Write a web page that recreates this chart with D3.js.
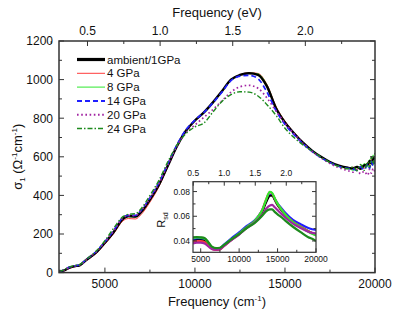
<!DOCTYPE html>
<html>
<head>
<meta charset="utf-8">
<script src="https://cdn.jsdelivr.net/npm/d3@7"></script>
<style>
  body { margin: 0; background: #fff; }
  svg text { font-family: "Liberation Sans", Arial, sans-serif; }
</style>
</head>
<body>
<div id="chart"></div>
<script>
// main panel: sigma_1 vs frequency (cm-1)
var freq = [2450, 2700, 3000, 3300, 3600, 4000, 4500, 5000, 5500, 6000, 6300, 6700, 7000, 7500, 8000, 8500, 9000, 9500,
  10000, 10500, 11000, 11500, 12000, 12500, 13000, 13500, 14000, 14500, 15000, 15500, 16000, 16500, 17000, 17500, 18000,
  18500, 18800, 19000, 19200, 19400, 19600, 19700, 19800, 19900, 20000];

var sAmb = [5, 10, 25, 33, 38, 68, 103, 155, 212, 278, 293, 291, 313, 378, 455, 555, 655, 735,
  788, 830, 882, 940, 1000, 1024, 1033, 1025, 965, 852, 778, 722, 673, 632, 600, 573, 554,
  543, 540, 548, 538, 556, 560, 578, 566, 590, 595];
var s4 = [3, 8, 20, 30, 36, 64, 98, 148, 203, 268, 280, 278, 300, 365, 445, 550, 650, 732,
  785, 828, 880, 937, 998, 1025, 1036, 1032, 975, 862, 785, 726, 676, 633, 600, 574, 552,
  540, 546, 534, 552, 540, 572, 556, 590, 570, 600];
var s8 = [4, 9, 23, 32, 37, 66, 101, 152, 208, 274, 289, 288, 310, 375, 452, 553, 654, 736,
  787, 830, 882, 938, 998, 1024, 1034, 1030, 972, 858, 782, 724, 674, 632, 600, 573, 553,
  542, 530, 552, 536, 566, 548, 585, 560, 610, 580];
var s14 = [6, 12, 27, 35, 40, 71, 108, 160, 220, 285, 297, 297, 322, 388, 466, 565, 662, 740,
  790, 830, 880, 935, 995, 1018, 1022, 1005, 935, 840, 768, 715, 668, 628, 596, 570, 550,
  540, 536, 530, 548, 532, 562, 540, 575, 552, 585];
var s20 = [5, 11, 26, 34, 39, 70, 106, 158, 218, 283, 295, 296, 320, 385, 462, 560, 655, 725,
  765, 805, 845, 890, 935, 963, 970, 955, 905, 838, 775, 720, 670, 628, 595, 565, 543,
  528, 520, 530, 512, 525, 505, 535, 515, 540, 520];
var s24 = [6, 13, 28, 36, 42, 72, 110, 165, 232, 290, 302, 305, 330, 400, 478, 575, 660, 720,
  755, 775, 832, 887, 922, 937, 935, 915, 870, 815, 748, 700, 662, 630, 598, 570, 550,
  538, 548, 528, 560, 530, 575, 545, 600, 560, 620];

// inset: R_sd vs frequency
var freqIn = [4000, 4500, 5000, 5500, 6000, 6500, 7000, 7500, 8000, 9000, 10000, 11000, 12000, 12500, 13000, 13500,
  14000, 14300, 14600, 15000, 15500, 16000, 17000, 18000, 19000, 19500, 20000];
var rAmb = [.0400, .0405, .0405, .0400, .0370, .0340, .0332, .0335, .0360, .0410, .0457, .0510, .0555, .0590, .0635, .0710,
  .0765, .0768, .0735, .0690, .0648, .0610, .0550, .0515, .0480, .0465, .0455];
var r4 = [.0392, .0398, .0398, .0392, .0362, .0335, .0328, .0332, .0357, .0408, .0455, .0510, .0558, .0598, .0650, .0735,
  .0795, .0785, .0748, .0700, .0655, .0615, .0555, .0515, .0478, .0462, .0450];
var r8 = [.0425, .0428, .0426, .0420, .0385, .0350, .0340, .0342, .0365, .0414, .0460, .0513, .0560, .0598, .0648, .0732,
  .0797, .0788, .0750, .0702, .0656, .0614, .0552, .0512, .0474, .0458, .0445];
var r14 = [.0410, .0415, .0414, .0408, .0378, .0345, .0336, .0340, .0368, .0422, .0470, .0522, .0565, .0600, .0648, .0722,
  .0772, .0775, .0745, .0705, .0665, .0628, .0570, .0535, .0505, .0495, .0490];
var r20 = [.0380, .0386, .0386, .0380, .0356, .0334, .0330, .0334, .0358, .0406, .0452, .0505, .0548, .0578, .0612, .0660,
  .0688, .0692, .0675, .0650, .0619, .0590, .0540, .0505, .0475, .0465, .0460];
var r24 = [.0430, .0432, .0430, .0424, .0390, .0352, .0342, .0345, .0366, .0412, .0455, .0505, .0545, .0572, .0604, .0640,
  .0655, .0655, .0638, .0615, .0592, .0565, .0515, .0471, .0430, .0417, .0400];

var names = ['ambient/1GPa', '4 GPa', '8 GPa', '14 GPa', '20 GPa', '24 GPa'];
var mainVals = [sAmb, s4, s8, s14, s20, s24];
var insetVals = [rAmb, r4, r8, r14, r20, r24];

var eVTicks = [0.5, 1.0, 1.5, 2.0];
var eVMinor = [0.25, 0.75, 1.25, 1.75, 2.25];
var CM_PER_EV = 8065.5;

var styles = [
  { color: '#000', width: 2.4, dash: null, lw: 3.2 },
  { color: '#ff3b3b', width: 1, dash: null, lw: 1 },
  { color: '#2ee82e', width: 1, dash: null, lw: 1 },
  { color: '#1f1fff', width: 1.7, dash: '5,3', lw: 2 },
  { color: '#a225a2', width: 1.7, dash: '1.6,2.6', lw: 2 },
  { color: '#1d8a1d', width: 1.4, dash: '5,2,1.5,2', lw: 1.6 }
];

var W = 399, H = 315;
var m = { l: 59, r: 375, t: 41, b: 272.6 };
var svg = d3.select('#chart').append('svg').attr('width', W).attr('height', H);

var x = d3.scaleLinear().domain([2450, 20000]).range([m.l, m.r]);
var y = d3.scaleLinear().domain([0, 1200]).range([m.b, m.t]);

svg.append('defs').append('clipPath').attr('id', 'clipMain')
  .append('rect').attr('x', m.l).attr('y', m.t).attr('width', m.r - m.l).attr('height', m.b - m.t);

function inwardTicks(g, scale, vals, len, orient, px) {
  vals.forEach(function(v) {
    var p = scale(v);
    var line = g.append('line').attr('stroke', '#333').attr('stroke-width', 1);
    if (orient === 'bottom') line.attr('x1', p).attr('x2', p).attr('y1', px).attr('y2', px - len);
    if (orient === 'top') line.attr('x1', p).attr('x2', p).attr('y1', px).attr('y2', px + len);
    if (orient === 'left') line.attr('y1', p).attr('y2', p).attr('x1', px).attr('x2', px + len);
    if (orient === 'right') line.attr('y1', p).attr('y2', p).attr('x1', px).attr('x2', px - len);
  });
}

// curves main
var line = d3.line().x(function(d) { return x(d[0]); }).y(function(d) { return y(d[1]); }).curve(d3.curveMonotoneX);
var gc = svg.append('g').attr('clip-path', 'url(#clipMain)');
[1, 2, 0, 3, 4, 5].forEach(function(i) {
  var pts = freq.map(function(f, k) { return [f, mainVals[i][k]]; });
  gc.append('path').attr('d', line(pts)).attr('fill', 'none')
    .attr('stroke', styles[i].color).attr('stroke-width', styles[i].width)
    .attr('stroke-dasharray', styles[i].dash);
});

// main frame and ticks
var ga = svg.append('g');
inwardTicks(ga, x, d3.range(5000, 20001, 5000), 5, 'bottom', m.b);
inwardTicks(ga, x, d3.range(2500, 20000, 5000), 3, 'bottom', m.b);
inwardTicks(ga, y, d3.range(0, 1201, 200), 5, 'left', m.l);
inwardTicks(ga, y, d3.range(100, 1200, 200), 3, 'left', m.l);
inwardTicks(ga, y, d3.range(0, 1201, 200), 5, 'right', m.r);
inwardTicks(ga, y, d3.range(100, 1200, 200), 3, 'right', m.r);
var xe = function(ev) { return x(ev * CM_PER_EV); };
xe.invert = null;
inwardTicks(ga, xe, eVTicks, 5, 'top', m.t);
inwardTicks(ga, xe, eVMinor, 3, 'top', m.t);
ga.append('rect').attr('x', m.l).attr('y', m.t).attr('width', m.r - m.l).attr('height', m.b - m.t)
  .attr('fill', 'none').attr('stroke', '#333').attr('stroke-width', 1.5);

d3.range(5000, 20001, 5000).forEach(function(v) {
  ga.append('text').attr('x', x(v)).attr('y', 288).attr('text-anchor', 'middle')
    .attr('font-size', 12).attr('fill', '#111').text(v);
});
d3.range(0, 1201, 200).forEach(function(v) {
  ga.append('text').attr('x', 53).attr('y', y(v) + 4.3).attr('text-anchor', 'end')
    .attr('font-size', 12).attr('fill', '#111').text(v);
});
eVTicks.forEach(function(v) {
  ga.append('text').attr('x', xe(v)).attr('y', 35).attr('text-anchor', 'middle')
    .attr('font-size', 12).attr('fill', '#111').text(v.toFixed(1));
});

svg.append('text').attr('x', (m.l + m.r) / 2).attr('y', 17).attr('text-anchor', 'middle')
  .attr('font-size', 13).attr('fill', '#111').text('Frequency (eV)');
var bt = svg.append('text').attr('x', (m.l + m.r) / 2).attr('y', 306).attr('text-anchor', 'middle')
  .attr('font-size', 13).attr('fill', '#111');
bt.append('tspan').text('Frequency (cm');
bt.append('tspan').attr('font-size', 8).attr('dy', -5).text('-1');
bt.append('tspan').attr('dy', 5).text(')');

var yt = svg.append('text').attr('transform', 'translate(22,' + ((m.t + m.b) / 2) + ') rotate(-90)')
  .attr('text-anchor', 'middle').attr('font-size', 13).attr('fill', '#111');
yt.append('tspan').text('σ');
yt.append('tspan').attr('font-size', 8).attr('dy', 3).text('1');
yt.append('tspan').attr('dy', -3).text(' (Ω');
yt.append('tspan').attr('font-size', 8).attr('dy', -5).text('-1');
yt.append('tspan').attr('dy', 5).text('cm');
yt.append('tspan').attr('font-size', 8).attr('dy', -5).text('-1');
yt.append('tspan').attr('dy', 5).text(')');

// legend
var lg = svg.append('g');
names.forEach(function(n, i) {
  var yy = 59.5 + i * 13.8;
  lg.append('line').attr('x1', 77).attr('x2', 105).attr('y1', yy).attr('y2', yy)
    .attr('stroke', styles[i].color).attr('stroke-width', styles[i].lw)
    .attr('stroke-dasharray', styles[i].dash);
  lg.append('text').attr('x', 107).attr('y', yy + 4).attr('font-size', 11.5).attr('fill', '#111').text(n);
});

// inset
var im = { l: 193, r: 316, t: 181.7, b: 252.3 };
var xi = d3.scaleLinear().domain([4000, 20000]).range([im.l, im.r]);
var yi = d3.scaleLinear().domain([0.0308, 0.088]).range([im.b, im.t]);
svg.append('rect').attr('x', im.l).attr('y', im.t).attr('width', im.r - im.l).attr('height', im.b - im.t)
  .attr('fill', '#fff');
svg.select('defs').append('clipPath').attr('id', 'clipIn')
  .append('rect').attr('x', im.l).attr('y', im.t).attr('width', im.r - im.l).attr('height', im.b - im.t);
var lineIn = d3.line().x(function(d) { return xi(d[0]); }).y(function(d) { return yi(d[1]); }).curve(d3.curveMonotoneX);
var gi = svg.append('g').attr('clip-path', 'url(#clipIn)');
[3, 0, 1, 2, 4, 5].forEach(function(i) {
  var pts = freqIn.map(function(f, k) { return [f, insetVals[i][k]]; });
  gi.append('path').attr('d', lineIn(pts)).attr('fill', 'none')
    .attr('stroke', styles[i].color).attr('stroke-width', i === 0 ? 2 : 2.2);
});
var gia = svg.append('g');
var xie = function(ev) { return xi(ev * CM_PER_EV); };
inwardTicks(gia, xi, d3.range(5000, 20001, 5000), 4, 'bottom', im.b);
inwardTicks(gia, xi, d3.range(7500, 20000, 5000), 2.5, 'bottom', im.b);
inwardTicks(gia, yi, [0.04, 0.06, 0.08], 4, 'left', im.l);
inwardTicks(gia, yi, [0.05, 0.07], 2.5, 'left', im.l);
inwardTicks(gia, yi, [0.04, 0.06, 0.08], 4, 'right', im.r);
inwardTicks(gia, yi, [0.05, 0.07], 2.5, 'right', im.r);
inwardTicks(gia, xie, eVTicks, 4, 'top', im.t);
inwardTicks(gia, xie, [0.75, 1.25, 1.75, 2.25], 2.5, 'top', im.t);
gia.append('rect').attr('x', im.l).attr('y', im.t).attr('width', im.r - im.l).attr('height', im.b - im.t)
  .attr('fill', 'none').attr('stroke', '#333').attr('stroke-width', 1.2);

d3.range(5000, 20001, 5000).forEach(function(v) {
  gia.append('text').attr('x', xi(v)).attr('y', 262).attr('text-anchor', 'middle')
    .attr('font-size', 8.5).attr('fill', '#111').text(v);
});
[0.04, 0.06, 0.08].forEach(function(v) {
  gia.append('text').attr('x', 190).attr('y', yi(v) + 3).attr('text-anchor', 'end')
    .attr('font-size', 8.5).attr('fill', '#111').text(v.toFixed(2));
});
eVTicks.forEach(function(v) {
  gia.append('text').attr('x', xie(v)).attr('y', 175.5).attr('text-anchor', 'middle')
    .attr('font-size', 8.5).attr('fill', '#111').text(v.toFixed(1));
});
var ri = svg.append('text').attr('transform', 'translate(165,' + ((im.t + im.b) / 2 + 3) + ') rotate(-90)')
  .attr('text-anchor', 'middle').attr('font-size', 11).attr('fill', '#111');
ri.append('tspan').text('R');
ri.append('tspan').attr('font-size', 7).attr('dy', 2.5).text('sd');
</script>
</body>
</html>
